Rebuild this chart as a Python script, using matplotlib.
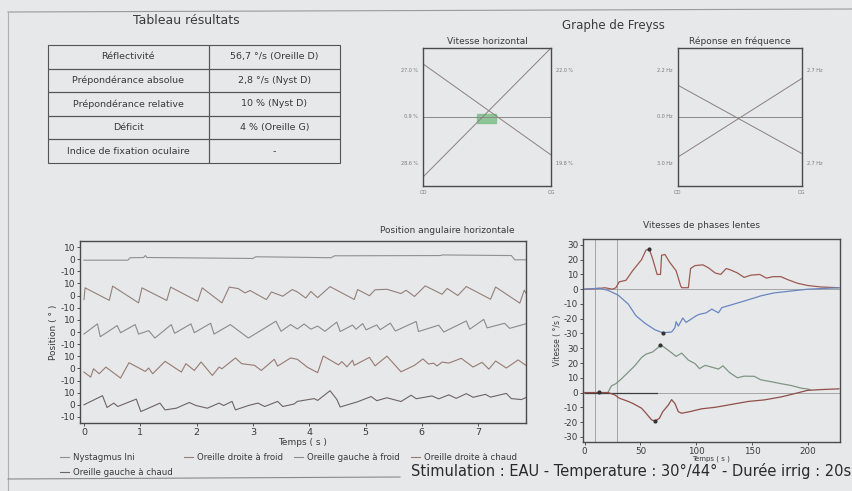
import numpy as np
import matplotlib.pyplot as plt
from matplotlib.patches import Rectangle
from matplotlib.lines import Line2D

plt.rcParams['font.family'] = ['DejaVu Sans']

# --- Tableau résultats ---
table_labels = ['Réflectivité', 'Prépondérance absolue', 'Prépondérance relative',
                'Déficit', 'Indice de fixation oculaire']
table_values = ['56,7 °/s (Oreille D)', '2,8 °/s (Nyst D)', '10 % (Nyst D)',
                '4 % (Oreille G)', '-']

# --- Graphe de Freyss (bord gauche, bord droit) ---
vit_ligne1 = [0.77, -0.55]
vit_ligne2 = [-0.87, 1.0]
vit_labels_g = ['27.0 %', '0.9 %', '28.6 %']
vit_labels_d = ['22.0 %', '19.8 %']
freq_ligne1 = [0.46, -0.53]
freq_ligne2 = [-0.58, 0.56]
freq_labels_g = ['2.2 Hz', '0.0 Hz', '3.0 Hz']
freq_labels_d = ['2.7 Hz', '2.7 Hz']

# --- Position angulaire horizontale (temps s, position deg) ---
nyst_t = [0, 0.78, 0.82, 1.06, 1.09, 1.12, 3.0, 3.05, 3.79, 4.39, 4.45, 6.33, 6.36, 7.59, 7.65, 7.85]
nyst_v = [-0.8, -0.8, 1.2, 1.4, 3.0, 1.4, 0.6, 2.0, 1.6, 1.2, 2.8, 3.0, 3.5, 3.0, -0.5, -0.5]

odf_t = [0.0, 0.02, 0.45, 0.51, 0.97, 1.03, 1.47, 1.54, 2.02, 2.10, 2.45, 2.58, 2.74, 2.86, 2.95,
         3.24, 3.33, 3.53, 3.70, 3.79, 3.94, 4.03, 4.15, 4.37, 4.80, 4.86, 5.07, 5.17, 5.38, 5.63,
         5.72, 5.87, 6.06, 6.36, 6.45, 6.64, 6.79, 7.22, 7.31, 7.74, 7.82, 7.85]
odf_v = [-3.3, 6.4, -3.9, 7.8, -6, 6.4, -4, 7, -4.7, 6.4, -6, 7, 5.8, 2.2, 4.2,
         -3.3, 3, -0.5, 5, 3, -2, 3.4, -1.7, 7.4, -3.2, 5.0, -0.1, 4.8, 5.2, 1.7,
         4.4, -0.7, 8.0, 1.1, 5.9, 0.1, 7.5, -3, 7.1, -6.2, 4.5, 2]

ogf_t = [0.0, 0.24, 0.29, 0.59, 0.65, 0.91, 0.97, 1.15, 1.26, 1.55, 1.61, 1.90, 1.96, 2.25, 2.31,
         2.60, 2.92, 3.41, 3.50, 3.67, 3.79, 3.91, 4.03, 4.15, 4.28, 4.49, 4.55, 4.77, 4.83, 4.95,
         5.01, 5.20, 5.26, 5.44, 5.53, 5.90, 5.94, 6.30, 6.39, 6.79, 6.85, 7.10, 7.16, 7.47, 7.56, 7.85]
ogf_v = [-1.7, 6.7, -3.9, 5.3, -0.6, 6.1, -1.7, 1.1, -5, 6.1, -1.1, 6.7, -0.6, 7.2, -1.7,
         6.1, -5, 8.9, 0.6, 6.1, 2.5, 6.6, 2.3, 4.9, 0.6, 8.2, 0.4, 5.7, 2.3, 6.9,
         1.8, 5.8, 1.9, 7.3, 0.8, 8.7, 0.4, 5.6, 0.0, 9.1, 2.3, 10.4, 3.4, 7.2, 3.0, 6.8]

odc_t = [0.0, 0.12, 0.17, 0.27, 0.39, 0.65, 0.80, 1.09, 1.15, 1.22, 1.44, 1.73, 1.81, 1.96, 2.08,
         2.28, 2.40, 2.45, 2.69, 2.80, 3.03, 3.15, 3.38, 3.44, 3.67, 3.79, 3.97, 4.15, 4.25, 4.52,
         4.58, 4.67, 4.77, 4.80, 5.07, 5.17, 5.38, 5.63, 5.87, 6.02, 6.12, 6.21, 6.27, 6.36, 6.48,
         6.70, 6.91, 7.07, 7.19, 7.31, 7.50, 7.71, 7.85]
odc_v = [-3, -7.2, -0.3, -4.4, 1.1, -8, 4.7, -2.5, 0.3, -4.4, 5.8, -3, 3.9, -1.7, 5.3,
         -5.8, 1.1, -0.3, 8.6, 3.9, 2.5, -1.7, 7.5, 1.9, 8.6, 7.5, 0.9, -3.5, 10.2, 2.9,
         5.6, 1.3, 6.7, 2.5, 9.1, 2.1, 10.1, -2.8, 2.5, 7.8, 3.6, 4.3, 2.0, 5.2, 4.4,
         8.3, 1.1, 5.0, -0.6, 6.1, 0.3, 7.0, 2.5]

ogc_t = [0.0, 0.33, 0.41, 0.53, 0.60, 0.93, 1.01, 1.35, 1.44, 1.64, 1.87, 1.99, 2.19, 2.40, 2.48,
         2.63, 2.69, 2.92, 3.09, 3.21, 3.44, 3.53, 3.73, 3.79, 4.09, 4.15, 4.37, 4.49, 4.55, 4.86,
         5.10, 5.20, 5.38, 5.63, 5.81, 5.90, 6.18, 6.30, 6.48, 6.61, 6.79, 6.91, 7.13, 7.22, 7.50,
         7.59, 7.77, 7.85]
ogc_v = [0, 7.5, -2.2, 1.4, -1.4, 4.7, -5.6, 1.4, -4.2, -2.8, 1.9, -0.6, -2.8, 1.4, -0.6,
         2.8, -4.2, -0.6, 1.4, -1.4, 2.8, -1.4, 0.6, 2.8, 5.1, 3.6, 11.6, 4.5, -1.8, 2.5,
         6.8, 3.4, 5.8, 2.7, 7.9, 5.0, 7.3, 4.9, 8.2, 5.3, 9.2, 6.2, 8.6, 6.3, 9.4,
         5.1, 4.3, 6.0]

pos_series = [('Nystagmus Ini', nyst_t, nyst_v, '#8f8f8f'),
              ('Oreille droite à froid', odf_t, odf_v, '#93807a'),
              ('Oreille gauche à froid', ogf_t, ogf_v, '#888d88'),
              ('Oreille droite à chaud', odc_t, odc_v, '#977b72'),
              ('Oreille gauche à chaud', ogc_t, ogc_v, '#6e6464')]
pos_offsets = [120, 90, 60, 30, 0]

# --- Vitesses de phases lentes (temps s, vitesse deg/s) ---
vd_chaud_t = [0, 13, 18, 25, 28, 31, 37, 43, 51, 55, 58, 61, 65, 68, 69, 72, 76, 82, 86, 87, 93, 95,
              99, 106, 111, 117, 122, 127, 131, 137, 143, 149, 157, 163, 169, 176, 182, 191, 200, 212, 228]
vd_chaud_v = [0, 0.5, 1, 0, 1, 5, 6, 12.5, 20, 26.5, 27, 20.5, 10, 10, 23, 23.5, 18.5, 12.5, 2.5, 1, 1, 14,
              16, 16.5, 14.5, 11, 10, 14, 13, 11, 8, 9.5, 10, 7.5, 8.5, 8.5, 6.5, 4, 2.5, 1.5, 1]
vd_froid_t = [0, 13, 21, 30, 39, 46, 54, 63, 70, 78, 81, 82, 84, 88, 91, 97, 100, 103, 109, 114, 120,
              123, 132, 141, 154, 158, 170, 182, 200, 228]
vd_froid_v = [0, 0.7, -0.8, -4, -10, -18, -23, -27.5, -29.5, -29, -26, -22, -25, -19.5, -22.5, -19.5,
              -18, -17, -16, -13.5, -16, -12.5, -10.5, -8.5, -5.5, -4.5, -2.5, -1.5, 0, 1]
vg_froid_t = [21, 24, 28, 33, 39, 45, 51, 55, 61, 66, 68, 72, 78, 82, 87, 93, 99, 103, 108, 114, 120,
              124, 130, 137, 143, 152, 158, 167, 176, 185, 194, 200, 202]
vg_froid_v = [0.3, 4.5, 6, 9.3, 13.7, 18.2, 23.7, 26, 27.5, 30.6, 32.5, 30.3, 26.9, 24.5, 26.7, 22,
              19.6, 16.2, 18.4, 17.2, 15.9, 18.1, 13.5, 10, 11.1, 11, 8.6, 7.4, 6, 4.8, 3, 2.4, 2]
vg_chaud_t = [0, 21, 27, 31, 39, 43, 51, 55, 60, 63, 67, 70, 75, 78, 81, 84, 87, 94, 105, 117, 132,
              147, 161, 176, 188, 200, 212, 228]
vg_chaud_v = [0, 0, -1.6, -3.8, -6, -7.3, -10.6, -14, -18.5, -19.3, -17.5, -13, -8.5, -4.8, -7.5, -13,
              -14, -13, -11, -10, -8, -6, -5, -3, -0.8, 1.5, 2, 2.5]
base_t = [0, 65]
base_v = [0, 0]
pics_haut_t = [58, 70]
pics_haut_v = [27, -29.5]
pics_bas_t = [13, 68, 63]
pics_bas_v = [0.5, 32.5, -19.3]
marqueurs_t = [9, 29]
vit_offsets = [70, 0]

bg = '#e7e8ea'
txt = '#3a3a3a'
frame = '#4a4a4a'
W, H = 852, 491


def box(x0, y0, x1, y1):
    return [x0 / W, 1 - y1 / H, (x1 - x0) / W, (y1 - y0) / H]


fig = plt.figure(figsize=(8.52, 4.91), dpi=100, facecolor=bg)

# bords de la feuille
fig.add_artist(Line2D([8 / W, 1], [1 - 12 / H, 1 - 9 / H], color='#9a9a9a', lw=0.8))
fig.add_artist(Line2D([8 / W, 8 / W], [0, 1 - 12 / H], color='#b0b0b0', lw=0.8))
fig.add_artist(Line2D([8 / W, 400 / W], [1 - 479 / H, 1 - 477 / H], color='#8a8a8a', lw=0.8))

# tableau
fig.text(186 / W, 1 - 21 / H, 'Tableau résultats', ha='center', va='center', fontsize=9, color=txt)
ax_t = fig.add_axes(box(48, 45, 340, 163))
ax_t.axis('off')
tab = ax_t.table(cellText=[[a, b] for a, b in zip(table_labels, table_values)],
                 colWidths=[0.55, 0.45], cellLoc='center', bbox=[0, 0, 1, 1])
tab.auto_set_font_size(False)
for cell in tab.get_celld().values():
    cell.set_facecolor('none')
    cell.set_edgecolor('#555555')
    cell.set_linewidth(0.8)
    cell.get_text().set_fontsize(6.8)
    cell.get_text().set_color(txt)

# Freyss
fig.text(613 / W, 1 - 26 / H, 'Graphe de Freyss', ha='center', va='center', fontsize=8.5, color=txt)


def freyss(rect, title, l1, l2, lab_g, lab_d):
    ax = fig.add_axes(rect)
    ax.set_facecolor('none')
    ax.set_xlim(0, 1)
    ax.set_ylim(-1, 1)
    ax.set_xticks([])
    ax.set_yticks([])
    for s in ax.spines.values():
        s.set_color(frame)
        s.set_linewidth(1.0)
    ax.set_title(title, fontsize=6.5, color=txt, pad=3)
    ax.axhline(0, color='#8a8a8a', lw=0.7)
    ax.plot([0, 1], l1, color='#8a8080', lw=0.7)
    ax.plot([0, 1], l2, color='#8a8080', lw=0.7)
    for y, s in zip([0.68, 0, -0.67], lab_g):
        ax.text(-0.04, y, s, ha='right', va='center', fontsize=3.5, color='#777777')
    for y, s in zip([0.68, -0.67], lab_d):
        ax.text(1.04, y, s, ha='left', va='center', fontsize=3.5, color='#777777')
    ax.text(0, -1.06, 'OD', ha='center', va='top', fontsize=3.5, color='#777777')
    ax.text(1, -1.06, 'OG', ha='center', va='top', fontsize=3.5, color='#777777')
    return ax


ax_v = freyss(box(423, 48, 551, 186), 'Vitesse horizontal', vit_ligne1, vit_ligne2,
              vit_labels_g, vit_labels_d)
ax_v.add_patch(Rectangle((0.42, -0.08), 0.15, 0.12, color='#7fc08a', alpha=0.85))
freyss(box(678, 48, 802, 186), 'Réponse en fréquence', freq_ligne1, freq_ligne2,
       freq_labels_g, freq_labels_d)

# position angulaire
ax_p = fig.add_axes(box(80, 241, 526, 423))
ax_p.set_facecolor('none')
handles = []
for (name, t, v, c), off in zip(pos_series, pos_offsets):
    h, = ax_p.plot(t, np.array(v) + off, color=c, lw=0.8, label=name)
    handles.append(h)
ax_p.set_xlim(-0.07, 7.85)
ax_p.set_ylim(-15, 135)
yt = []
for off in pos_offsets:
    yt += [off + 10, off, off - 10]
ax_p.set_yticks(yt)
ax_p.set_yticklabels(['10', '0', '-10'] * 5)
ax_p.set_xticks(range(8))
ax_p.tick_params(axis='y', labelsize=6.5)
ax_p.tick_params(labelsize=6.8, colors=txt, length=2, width=0.6, pad=1.5)
ax_p.tick_params(axis='y', labelsize=6.5)
for s in ax_p.spines.values():
    s.set_color(frame)
    s.set_linewidth(1.0)
ax_p.set_ylabel('Position ( ° )', fontsize=6.5, color=txt, labelpad=2)
ax_p.set_xlabel('Temps ( s )', fontsize=6.5, color=txt, labelpad=1)
ax_p.text(0.975, 1.035, 'Position angulaire horizontale', transform=ax_p.transAxes,
          ha='right', va='bottom', fontsize=6.5, color=txt)

order = [0, 4, 1, 2, 3]
fig.legend([handles[i] for i in order], [pos_series[i][0] for i in order],
           loc='upper left', bbox_to_anchor=(57 / W, 1 - 450 / H), ncol=4, frameon=False,
           fontsize=6.2, handlelength=1.0, handletextpad=0.5, columnspacing=1.3,
           labelspacing=0.6, borderaxespad=0, labelcolor=txt)

# vitesses de phases lentes
ax_s = fig.add_axes(box(583, 239, 840, 442))
ax_s.set_facecolor('none')
for off in vit_offsets:
    ax_s.axhline(off, color='#a5a5a5', lw=0.7)
for m in marqueurs_t:
    ax_s.axvline(m, color='#9a9a9a', lw=0.6)
ax_s.plot(base_t, np.array(base_v) + vit_offsets[1], color='#3d3d3d', lw=0.9)
ax_s.plot(vd_chaud_t, np.array(vd_chaud_v) + vit_offsets[0], color='#9c5a52', lw=0.9)
ax_s.plot(vd_froid_t, np.array(vd_froid_v) + vit_offsets[0], color='#6a86c0', lw=0.9)
ax_s.plot(vg_froid_t, np.array(vg_froid_v) + vit_offsets[1], color='#7f9683', lw=0.9)
ax_s.plot(vg_chaud_t, np.array(vg_chaud_v) + vit_offsets[1], color='#8f4f4a', lw=0.9)
ax_s.plot(pics_haut_t, np.array(pics_haut_v) + vit_offsets[0], 'o', color='#333333', ms=2)
ax_s.plot(pics_bas_t, np.array(pics_bas_v) + vit_offsets[1], 'o', color='#333333', ms=2)
ax_s.set_xlim(-1.5, 229)
ax_s.set_ylim(-33.5, 104)
yt = []
for off in vit_offsets:
    yt += [off + k for k in (30, 20, 10, 0, -10, -20, -30)]
ax_s.set_yticks(yt)
ax_s.set_yticklabels(['30', '20', '10', '0', '-10', '-20', '-30'] * 2)
ax_s.set_xticks([0, 50, 100, 150, 200])
ax_s.tick_params(labelsize=6.3, colors=txt, length=2, width=0.6, pad=1.5)
for s in ax_s.spines.values():
    s.set_color(frame)
    s.set_linewidth(1.0)
ax_s.set_ylabel('Vitesse ( °/s )', fontsize=5.5, color=txt, labelpad=1)
ax_s.set_xlabel('Temps ( s )', fontsize=5, color=txt, labelpad=0)
ax_s.text(0.463, 1.045, 'Vitesses de phases lentes', transform=ax_s.transAxes,
          ha='center', va='bottom', fontsize=6.5, color=txt)

fig.text(851 / W, 1 - 471 / H, 'Stimulation : EAU - Temperature : 30°/44° - Durée irrig : 20s',
         ha='right', va='center', fontsize=10.5, color='#2a2a2a')

fig.savefig('out.png', dpi=100, facecolor=bg)
